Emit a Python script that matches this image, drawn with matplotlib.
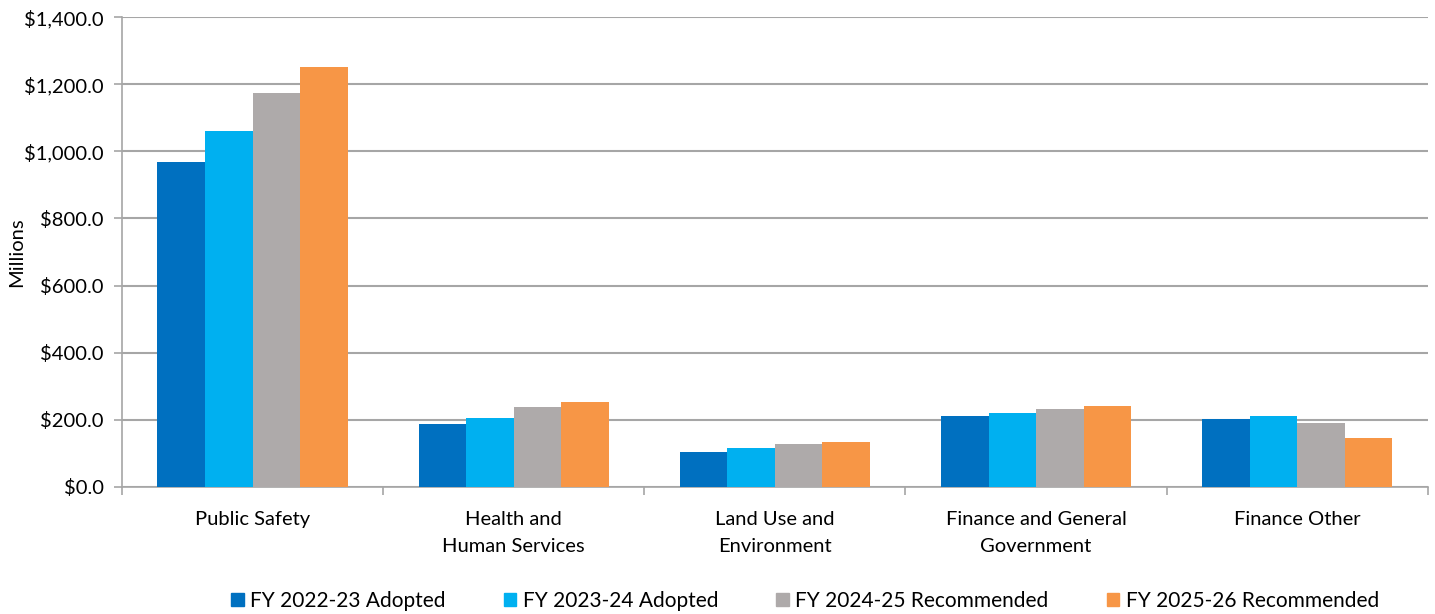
import matplotlib.pyplot as plt
import numpy as np
from matplotlib.ticker import FuncFormatter
from matplotlib.patches import Patch

plt.rcParams['font.family'] = ['Lato', 'DejaVu Sans']

categories = ["Public Safety", "Health and\nHuman Services", "Land Use and\nEnvironment",
              "Finance and General\nGovernment", "Finance Other"]
series = ["FY 2022-23 Adopted", "FY 2023-24 Adopted",
          "FY 2024-25 Recommended", "FY 2025-26 Recommended"]
fy2223 = [968, 186, 105, 210, 201]
fy2324 = [1062, 205, 115, 221, 212]
fy2425 = [1175, 237, 129, 232, 190]
fy2526 = [1251, 252, 133, 240, 145]
colors = ["#0070C0", "#00B0F0", "#AEAAAA", "#F79646"]

values = [fy2223, fy2324, fy2425, fy2526]

fig = plt.figure(figsize=(14.35, 6.14), dpi=100)
ax = fig.add_axes([0.085, 0.207, 0.910, 0.765])

x = np.arange(len(categories))
w = 0.182
for i, (vals, c) in enumerate(zip(values, colors)):
    ax.bar(x + (i - 1.5) * w, vals, w, color=c, zorder=3, label=series[i])

ax.set_xlim(-0.5, len(categories) - 0.5)
ax.set_ylim(0, 1400)
ax.set_yticks(np.arange(0, 1401, 200))
ax.yaxis.set_major_formatter(FuncFormatter(lambda v, p: "${:,.1f}".format(v)))
ax.grid(axis='y', color='#A6A6A6', linewidth=1.5, zorder=0)

ax.set_xticks(x)
ax.set_xticklabels(categories, fontsize=14.5, linespacing=1.75, va='top')
ax.set_xticks(np.arange(-0.5, len(categories)), minor=True)
ax.tick_params(axis='x', which='major', length=0, pad=17)
ax.tick_params(axis='x', which='minor', length=6, color='#A6A6A6', width=1.2)
ax.tick_params(axis='y', labelsize=14.5, length=6, color='#A6A6A6', width=1.2, pad=7)

for s in ['top', 'right']:
    ax.spines[s].set_visible(False)
for s in ['left', 'bottom']:
    ax.spines[s].set_color('#A6A6A6')
    ax.spines[s].set_linewidth(1.2)

ax.set_ylabel("Millions", fontsize=14.5, va='center')
ax.yaxis.set_label_coords(-0.081, 0.5)

handles = [Patch(color=c) for c in colors]
fig.legend(handles, series, loc='lower center', bbox_to_anchor=(0.561, -0.025), ncol=4,
           frameon=False, fontsize=15, handlelength=0.6, handleheight=0.6,
           handletextpad=0.3, columnspacing=2.8)

plt.savefig("out.png")
